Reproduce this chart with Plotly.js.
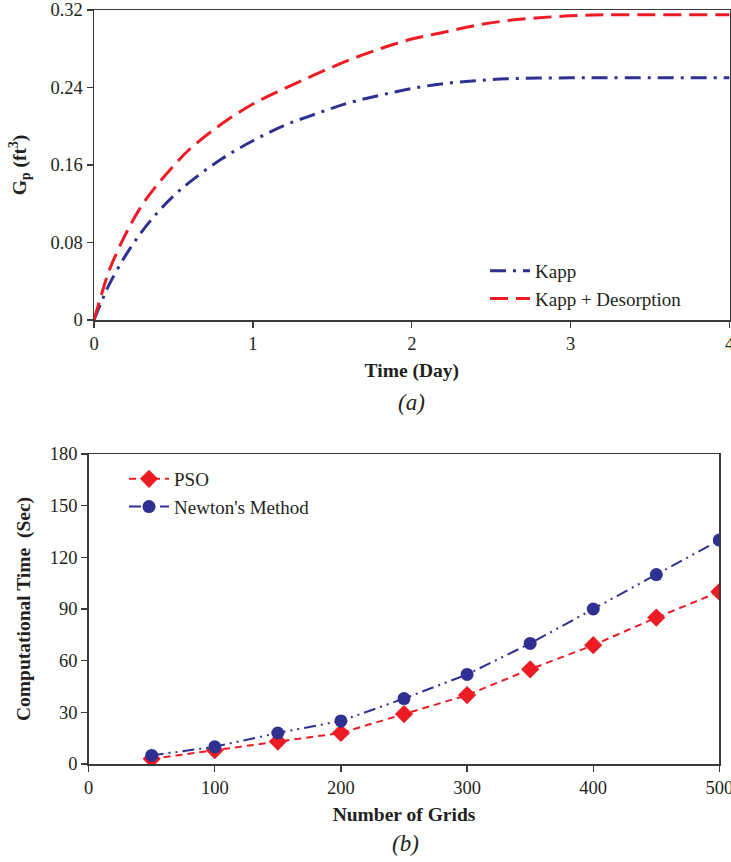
<!DOCTYPE html>
<html>
<head>
<meta charset="utf-8">
<script src="https://cdn.plot.ly/plotly-3.0.1.min.js"></script>
<style>html,body{margin:0;padding:0;background:#fff;}#chart{width:731px;height:862px;}</style>
</head>
<body>
<div id="chart"></div>
<script>
// ---- Panel (a) data ----
const timeDays = [0, 0.05, 0.1, 0.2, 0.3, 0.4, 0.5, 0.6, 0.8, 1.0, 1.2, 1.4, 1.6, 1.8, 2.0, 2.2, 2.4, 2.6, 2.8, 3.0, 3.2, 3.5, 4.0];
const gpKapp = [0, 0.020, 0.038, 0.067, 0.091, 0.111, 0.128, 0.142, 0.166, 0.185, 0.201, 0.213, 0.224, 0.232, 0.239, 0.244, 0.247, 0.249, 0.2497, 0.25, 0.25, 0.25, 0.25];
const gpKappDesorption = [0, 0.028, 0.053, 0.089, 0.118, 0.140, 0.159, 0.176, 0.202, 0.223, 0.239, 0.254, 0.268, 0.280, 0.290, 0.297, 0.304, 0.309, 0.312, 0.314, 0.315, 0.315, 0.315];
const gpTicks = [0, 0.08, 0.16, 0.24, 0.32];
const gpTickText = ['0', '0.08', '0.16', '0.24', '0.32'];
const timeTicks = [0, 1, 2, 3, 4];

// ---- Panel (b) data ----
const grids = [50, 100, 150, 200, 250, 300, 350, 400, 450, 500];
const timePSO = [3, 8, 13, 18, 29, 40, 55, 69, 85, 100];
const timeNewton = [5, 10, 18, 25, 38, 52, 70, 90, 110, 130];
const secTicks = [0, 30, 60, 90, 120, 150, 180];
const gridTicks = [0, 100, 200, 300, 400, 500];

const RED = '#ED1C24';
const BLUE = '#2E3192';
const FONT = '"Liberation Serif", "Times New Roman", serif';
const TXT = '#231F20';

const traces = [
  {x: timeDays, y: gpKapp, type: 'scatter', mode: 'lines', name: 'Kapp',
   line: {color: BLUE, width: 3, dash: '16px,7px,3px,7px', shape: 'spline'},
   xaxis: 'x', yaxis: 'y', legend: 'legend'},
  {x: timeDays, y: gpKappDesorption, type: 'scatter', mode: 'lines', name: 'Kapp + Desorption',
   line: {color: RED, width: 3, dash: '18px,8px', shape: 'spline'},
   xaxis: 'x', yaxis: 'y', legend: 'legend'},
  {x: grids, y: timePSO, type: 'scatter', mode: 'lines+markers', name: 'PSO',
   line: {color: RED, width: 2, dash: '7px,5px'},
   marker: {symbol: 'diamond', size: 14, color: RED},
   xaxis: 'x2', yaxis: 'y2', legend: 'legend2'},
  {x: grids, y: timeNewton, type: 'scatter', mode: 'lines+markers', name: "Newton's Method",
   line: {color: BLUE, width: 2, dash: '12px,5px,2px,5px,2px,5px'},
   marker: {symbol: 'circle', size: 13, color: BLUE},
   xaxis: 'x2', yaxis: 'y2', legend: 'legend2'}
];

const W = 731, H = 862;
function dx(a, b) { return [a / W, b / W]; }
function dy(top, bot) { return [1 - bot / H, 1 - top / H]; }

const axBase = {
  showgrid: false, zeroline: false, showline: true, linecolor: '#3a3a3a', linewidth: 1.5,
  mirror: true, ticks: 'outside', ticklen: 6, tickcolor: '#3a3a3a', tickwidth: 1.2,
  ticklabeloverflow: 'allow',
  tickfont: {family: FONT, size: 18.5, color: TXT}
};
const titleFont = {family: FONT, size: 19.5, color: TXT, weight: 'bold'};

const layout = {
  width: W, height: H,
  margin: {l: 0, r: 0, t: 0, b: 0},
  paper_bgcolor: '#fff', plot_bgcolor: '#fff',
  showlegend: true,
  xaxis: Object.assign({}, axBase, {
    domain: dx(94, 729.6), range: [0, 4], tickvals: timeTicks, anchor: 'y',
    title: {text: 'Time (Day)', font: titleFont, standoff: 10}
  }),
  yaxis: Object.assign({}, axBase, {
    domain: dy(10, 320), range: [0, 0.32], tickvals: gpTicks, ticktext: gpTickText, anchor: 'x',
    title: {text: 'G<sub>p</sub> (ft<sup>3</sup>)', font: titleFont, standoff: 18}
  }),
  xaxis2: Object.assign({}, axBase, {
    domain: dx(88.6, 719.4), range: [0, 500], tickvals: gridTicks, anchor: 'y2',
    title: {text: 'Number of Grids', font: titleFont, standoff: 10}
  }),
  yaxis2: Object.assign({}, axBase, {
    domain: dy(454, 764), range: [0, 180], tickvals: secTicks, anchor: 'x2',
    title: {text: 'Computational Time  (Sec)', font: titleFont, standoff: 14}
  }),
  legend: {
    x: 485 / W, y: 1 - 252 / H, xanchor: 'left', yanchor: 'top',
    bgcolor: 'rgba(0,0,0,0)', font: {family: FONT, size: 19, color: TXT},
    itemwidth: 40, tracegroupgap: 0
  },
  legend2: {
    x: 124 / W, y: 1 - 460 / H, xanchor: 'left', yanchor: 'top',
    bgcolor: 'rgba(0,0,0,0)', font: {family: FONT, size: 19, color: TXT},
    itemwidth: 40, tracegroupgap: 0
  },
  annotations: [
    {text: '(a)', x: 411 / W, y: 1 - 402 / H, xref: 'paper', yref: 'paper', showarrow: false,
     xanchor: 'center', yanchor: 'middle', font: {family: FONT, size: 23, color: TXT, style: 'italic'}},
    {text: '(b)', x: 405 / W, y: 1 - 843 / H, xref: 'paper', yref: 'paper', showarrow: false,
     xanchor: 'center', yanchor: 'middle', font: {family: FONT, size: 23, color: TXT, style: 'italic'}}
  ]
};

Plotly.newPlot('chart', traces, layout, {displayModeBar: false, staticPlot: true});
</script>
</body>
</html>
